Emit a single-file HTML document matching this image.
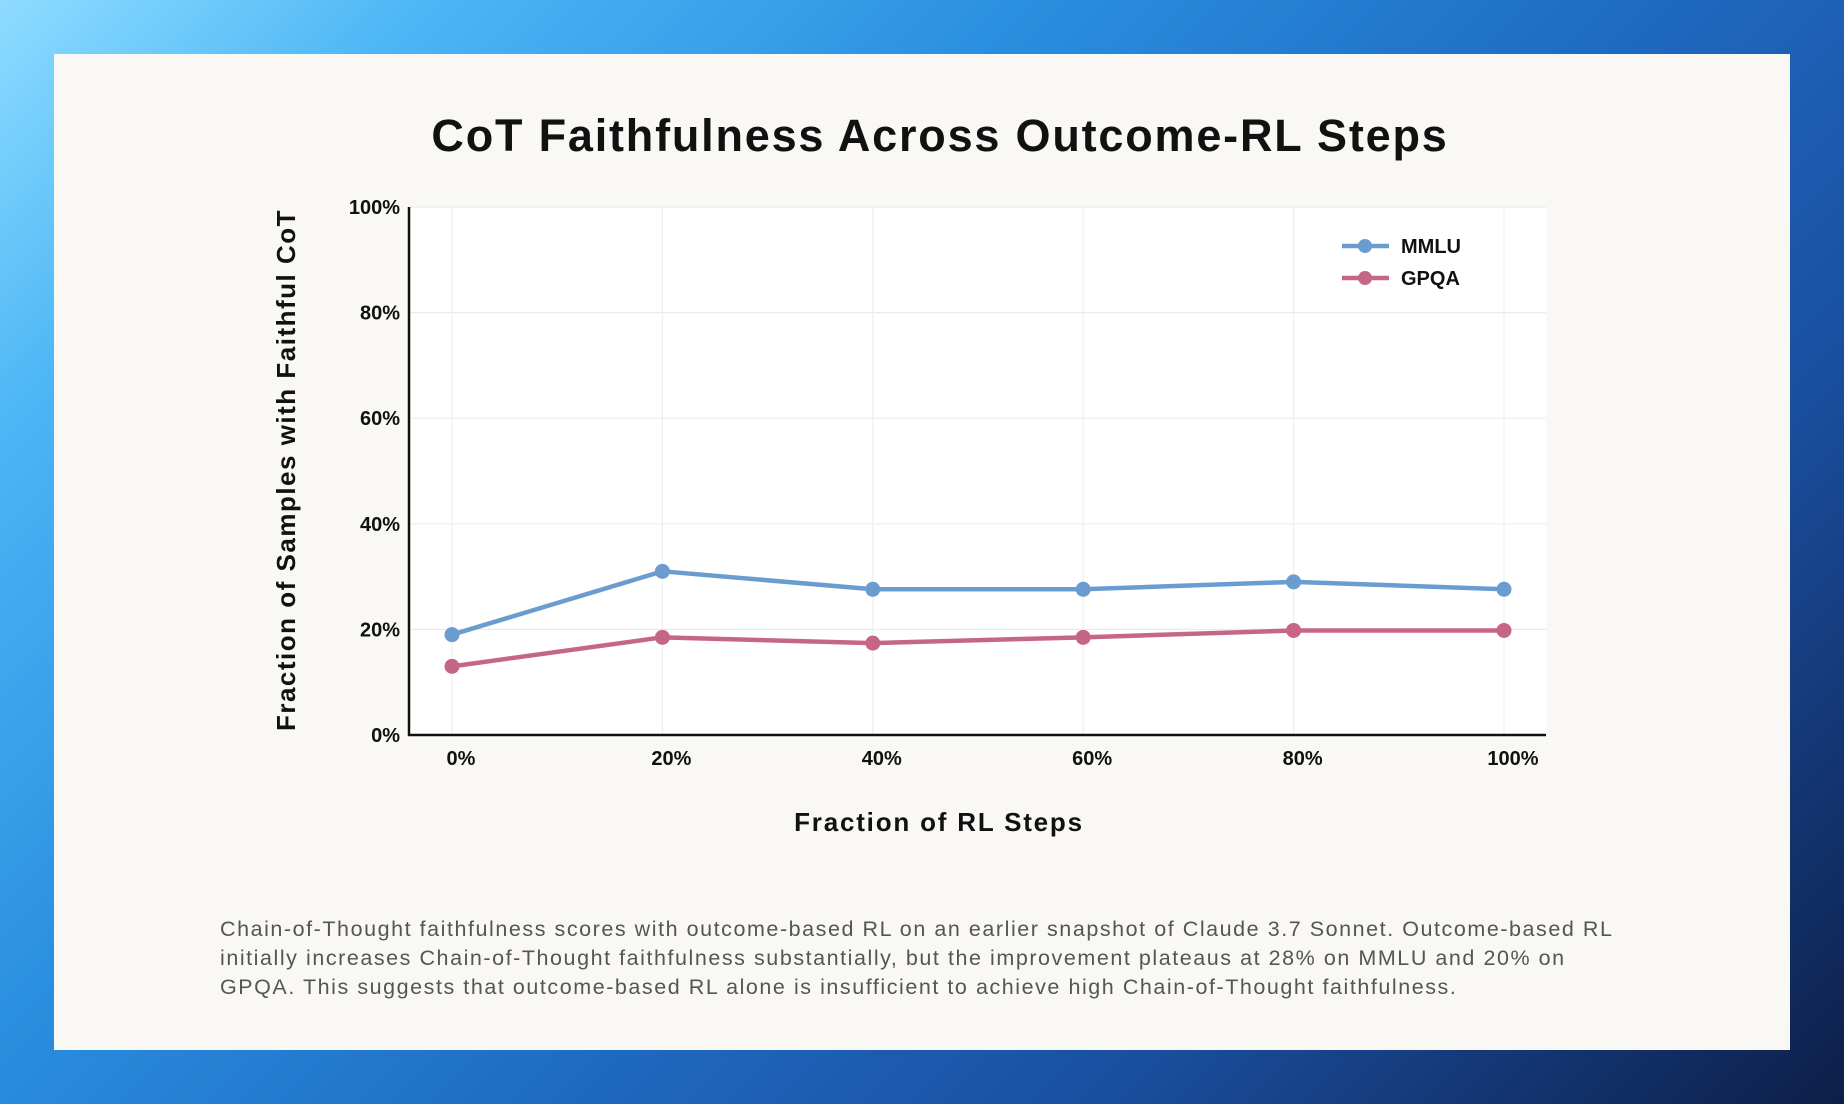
<!DOCTYPE html>
<html><head><meta charset="utf-8">
<style>
html,body{margin:0;padding:0;width:1844px;height:1104px;overflow:hidden;font-family:"Liberation Sans",sans-serif;}
.bg{position:absolute;left:0;top:0;width:1844px;height:1104px;background:linear-gradient(135deg,#8edcff 0%,#4bb5f5 15%,#2a8fe0 35%,#1f6cc4 55%,#1a4e9e 75%,#0d1e48 100%);}
.card{position:absolute;left:54px;top:54px;width:1736px;height:996px;background:#f9f8f5;}
.title{position:absolute;left:18px;width:1844px;top:110px;text-align:center;font-size:45px;font-weight:bold;color:#111;letter-spacing:1.8px;}
.caption{position:absolute;left:220px;top:915px;width:1408px;font-size:21.5px;line-height:29px;color:#555;letter-spacing:1.55px;}
svg{position:absolute;left:0;top:0;}
</style></head><body>
<div class="bg"></div>
<div class="card"></div>
<div class="title">CoT Faithfulness Across Outcome-RL Steps</div>
<svg id="chart" width="1844" height="1104"></svg>
<div class="caption">Chain-of-Thought faithfulness scores with outcome-based RL on an earlier snapshot of Claude 3.7 Sonnet. Outcome-based RL initially increases Chain-of-Thought faithfulness substantially, but the improvement plateaus at 28% on MMLU and 20% on GPQA. This suggests that outcome-based RL alone is insufficient to achieve high Chain-of-Thought faithfulness.</div>
<script>
const categories = ["0%","20%","40%","60%","80%","100%"];
const mmlu = [19, 31, 27.6, 27.6, 29, 27.6];
const gpqa = [13, 18.5, 17.4, 18.5, 19.8, 19.8];
const yTicks = [0,20,40,60,80,100];
const yTickLabels = ["0%","20%","40%","60%","80%","100%"];

const NS="http://www.w3.org/2000/svg";
const svg=document.getElementById('chart');
const L=409,R=1546,T=207,B=735;
const xs=i=>452+i*(1504-452)/(categories.length-1);
const ys=v=>B-(v/100)*(B-T);
function mk(tag,attrs,parent){const e=document.createElementNS(NS,tag);for(const k in attrs)e.setAttribute(k,attrs[k]);(parent||svg).appendChild(e);return e;}

const plot=mk('rect',{x:L,y:T,width:R-L,height:B-T,fill:'#ffffff'});



yTicks.forEach((v,i)=>{
  if(v>0){const g=mk('line',{x1:L,x2:R,y1:ys(v),y2:ys(v),stroke:'#ebebeb','stroke-width':1.2});
  
  }
  const t=mk('text',{x:400,y:ys(v)+7,'text-anchor':'end','font-size':20,'font-weight':'bold',fill:'#111'});
  t.textContent=yTickLabels[i];
  
  
});
categories.forEach((c,i)=>{
  const g=mk('line',{x1:xs(i),x2:xs(i),y1:T,y2:B,stroke:'#efefef','stroke-width':1.2});
  
  
  const t=mk('text',{x:xs(i)+9,y:765,'text-anchor':'middle','font-size':20,'font-weight':'bold',fill:'#111'});
  t.textContent=c;
  
  
});
const ax=mk('path',{d:`M${L},${T} L${L},${B} L${R},${B}`,fill:'none',stroke:'#111','stroke-width':2.5});



function series(vals,color,name){
  const p=mk('polyline',{points:vals.map((v,i)=>xs(i)+','+ys(v)).join(' '),fill:'none',stroke:color,'stroke-width':4.5,'stroke-linejoin':'round'});
  
  
  vals.forEach((v,i)=>{
    const c=mk('circle',{cx:xs(i),cy:ys(v),r:7.5,fill:color});
    
    
  });
}
series(mmlu,'#6a9ccf','mmlu');
series(gpqa,'#c66686','gpqa');

[['MMLU','#6a9ccf',246],['GPQA','#c66686',278]].forEach(([n,c,y])=>{
  const l=mk('line',{x1:1342,x2:1389,y1:y,y2:y,stroke:c,'stroke-width':4.5});
  
  
  const d=mk('circle',{cx:1365,cy:y,r:7,fill:c});
  
  
  const t=mk('text',{x:1401,y:y+7,'font-size':20,'font-weight':'bold',fill:'#111'});
  t.textContent=n;
  
  
});

const xt=mk('text',{x:939,y:831,'text-anchor':'middle','font-size':26,'font-weight':'bold',fill:'#111','letter-spacing':'1.8'});
xt.textContent='Fraction of RL Steps';


const yt=mk('text',{x:0,y:0,'text-anchor':'middle','font-size':26,'font-weight':'bold',fill:'#111','letter-spacing':'1.5',transform:'translate(295,470) rotate(-90)'});
yt.textContent='Fraction of Samples with Faithful CoT';


</script>
</body></html>
